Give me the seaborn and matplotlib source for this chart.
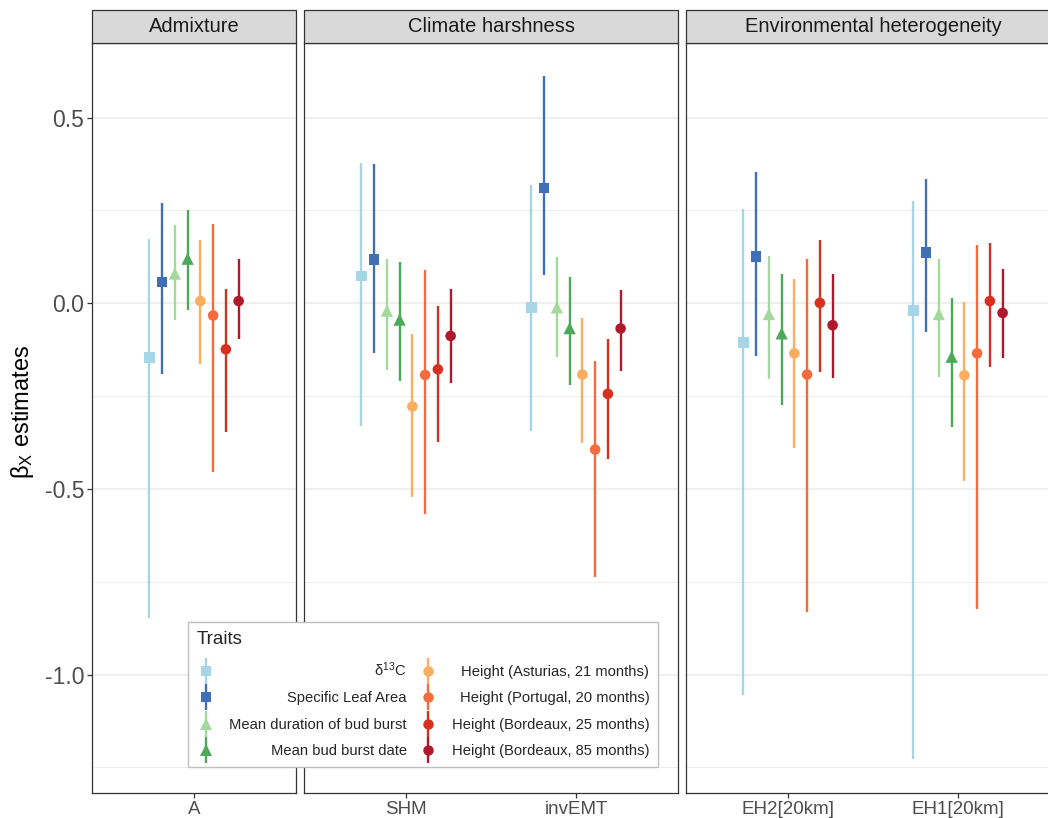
import numpy as np
import pandas as pd
import matplotlib
matplotlib.use("Agg")
import matplotlib.pyplot as plt
from matplotlib.lines import Line2D
from matplotlib.patches import Rectangle
import seaborn as sns

# facettes et covariables
groups = ["Admixture", "Climate harshness", "Environmental heterogeneity"]
covariates = ["A", "SHM", "invEMT", "EH2[20km]", "EH1[20km]"]
cov_group = ["Admixture", "Climate harshness", "Climate harshness",
             "Environmental heterogeneity", "Environmental heterogeneity"]

# traits (ordre de la légende)
traits = ["δ$^{13}$C", "Specific Leaf Area", "Mean duration of bud burst",
          "Mean bud burst date", "Height (Asturias, 21 months)",
          "Height (Portugal, 20 months)", "Height (Bordeaux, 25 months)",
          "Height (Bordeaux, 85 months)"]
colors = ["#A6D5E7", "#3F70B5", "#A3D99D", "#4CA95A",
          "#FDAD5F", "#F36C3D", "#D8301F", "#B0182C"]
markers = ["s", "s", "^", "^", "o", "o", "o", "o"]

# estimations (lignes = traits, colonnes = covariables A, SHM, invEMT, EH2, EH1)
estimate = [
    [-0.146, 0.074, -0.011, -0.106, -0.020],
    [0.057, 0.118, 0.311, 0.126, 0.137],
    [0.080, -0.020, -0.011, -0.029, -0.029],
    [0.120, -0.044, -0.067, -0.081, -0.144],
    [0.006, -0.278, -0.192, -0.135, -0.194],
    [-0.033, -0.193, -0.394, -0.192, -0.135],
    [-0.124, -0.178, -0.244, 0.001, 0.006],
    [0.006, -0.088, -0.068, -0.059, -0.026],
]
ci_low = [
    [-0.847, -0.331, -0.345, -1.055, -1.228],
    [-0.190, -0.134, 0.075, -0.141, -0.077],
    [-0.046, -0.179, -0.144, -0.203, -0.199],
    [-0.019, -0.210, -0.221, -0.273, -0.334],
    [-0.163, -0.523, -0.375, -0.390, -0.478],
    [-0.455, -0.567, -0.736, -0.832, -0.823],
    [-0.348, -0.374, -0.420, -0.186, -0.171],
    [-0.096, -0.215, -0.183, -0.201, -0.147],
]
ci_high = [
    [0.173, 0.378, 0.318, 0.253, 0.275],
    [0.270, 0.374, 0.611, 0.353, 0.334],
    [0.210, 0.120, 0.124, 0.126, 0.119],
    [0.252, 0.110, 0.072, 0.078, 0.015],
    [0.170, -0.084, -0.041, 0.065, 0.004],
    [0.213, 0.089, -0.155, 0.119, 0.158],
    [0.039, -0.008, -0.095, 0.170, 0.162],
    [0.119, 0.039, 0.036, 0.079, 0.093],
]

# table longue
rows = []
for i, t in enumerate(traits):
    for j, c in enumerate(covariates):
        rows.append({"trait": t, "covariate": c, "group": cov_group[j],
                     "est": estimate[i][j], "lo": ci_low[i][j], "hi": ci_high[i][j],
                     "ti": i})
df = pd.DataFrame(rows)

sns.set_theme(style="whitegrid")
plt.rcParams["font.family"] = ["Liberation Sans", "DejaVu Sans"]
plt.rcParams["mathtext.fontset"] = "custom"
plt.rcParams["mathtext.rm"] = "Liberation Sans"
plt.rcParams["mathtext.it"] = "Liberation Sans:italic"

pal = dict(zip(traits, colors))
mk = dict(zip(traits, markers))
sz = {t: (78 if m == "^" else 58) for t, m in zip(traits, markers)}

W, H = 1048, 818
fig = plt.figure(figsize=(W / 100, H / 100), dpi=100)

# boîtes des panneaux en pixels (gauche, droite)
panel_px = [(92, 296), (304, 678), (686, 1060)]
top_px, bot_px = 43, 793
strip_top = 10
dodge = 0.075

for k, g in enumerate(groups):
    x0, x1 = panel_px[k]
    ax = fig.add_axes([x0 / W, 1 - bot_px / H, (x1 - x0) / W, (bot_px - top_px) / H])
    covs = [c for c, gg in zip(covariates, cov_group) if gg == g]
    sub = df[df.group == g].copy()
    sub["x"] = sub.covariate.map({c: n for n, c in enumerate(covs)}) + (sub.ti - 3.5) * dodge

    ax.vlines(sub.x, sub.lo, sub.hi, colors=[pal[t] for t in sub.trait], lw=1.7, zorder=2)
    sns.scatterplot(data=sub, x="x", y="est", hue="trait", style="trait", size="trait",
                    hue_order=traits, style_order=traits, size_order=traits,
                    palette=pal, markers=mk, sizes=sz, linewidth=0, legend=False,
                    ax=ax, zorder=3)

    ax.set_xlim(-0.6, len(covs) - 0.4)
    ax.set_xticks(range(len(covs)))
    ax.set_xticklabels(covs)
    ax.set_ylim(-1.319, 0.701)
    ax.set_yticks([-1.0, -0.5, 0.0, 0.5])
    ax.set_yticks([-1.25, -0.75, -0.25, 0.25], minor=True)
    ax.set_yticklabels(["-1.0", "-0.5", "0.0", "0.5"])
    ax.grid(False)
    ax.grid(axis="y", which="major", color="#EBEBEB", lw=1.1)
    ax.grid(axis="y", which="minor", color="#EBEBEB", lw=0.6)
    ax.set_axisbelow(True)
    ax.set_xlabel("")
    ax.set_ylabel("")
    for s in ax.spines.values():
        s.set_color("#333333")
        s.set_linewidth(0.9)
    ax.tick_params(axis="x", bottom=True, length=3.5, width=0.9, color="#333333",
                   labelsize=13.5, labelcolor="#4D4D4D", pad=2)
    ax.tick_params(axis="y", which="minor", left=False)
    if k == 0:
        ax.tick_params(axis="y", left=True, length=3.5, width=0.9, color="#333333",
                       labelsize=16.5, labelcolor="#4D4D4D", pad=2)
    else:
        ax.tick_params(axis="y", left=False, labelleft=False)

    # bandeau gris de la facette
    fig.add_artist(Rectangle((x0 / W, 1 - top_px / H), (x1 - x0) / W, (top_px - strip_top) / H,
                             transform=fig.transFigure, facecolor="#D9D9D9",
                             edgecolor="#333333", lw=0.9))
    fig.text((x0 + x1) / 2 / W, 1 - (top_px + strip_top) / 2 / H, g, ha="center", va="center",
             fontsize=14.5, color="#1A1A1A")

fig.text(22 / W, 1 - 412 / H, "β$_{\\mathrm{X}}$ estimates", rotation=90, ha="center",
         va="center", fontsize=17, color="black")

# légende
handles = [(Line2D([], [], color=c, marker="|", markersize=19, mew=1.7, ls="None"),
            Line2D([], [], color=c, marker=m, markersize=(9 if m == "^" else 7.5), mew=0, ls="None"))
           for c, m in zip(colors, markers)]
leg = fig.legend(handles, traits, loc="upper left", bbox_to_anchor=(188 / W, 1 - 622 / H),
                 ncol=2, title="Traits", alignment="left", frameon=True, fancybox=False,
                 edgecolor="#BFBFBF", framealpha=1, fontsize=10.6, title_fontsize=13.5,
                 labelspacing=0.85, handlelength=1.2, handletextpad=1.0, columnspacing=0.85,
                 borderpad=0.6, borderaxespad=0)
leg.get_frame().set_linewidth(1.0)

# textes alignés à droite dans chaque colonne
fig.canvas.draw()
texts = leg.get_texts()
for col in (texts[:4], texts[4:]):
    right = max(t.get_window_extent().x1 for t in col)
    for t in col:
        t.set_position((right - t.get_window_extent().x1, 0))

fig.savefig("out.png", dpi=100)
